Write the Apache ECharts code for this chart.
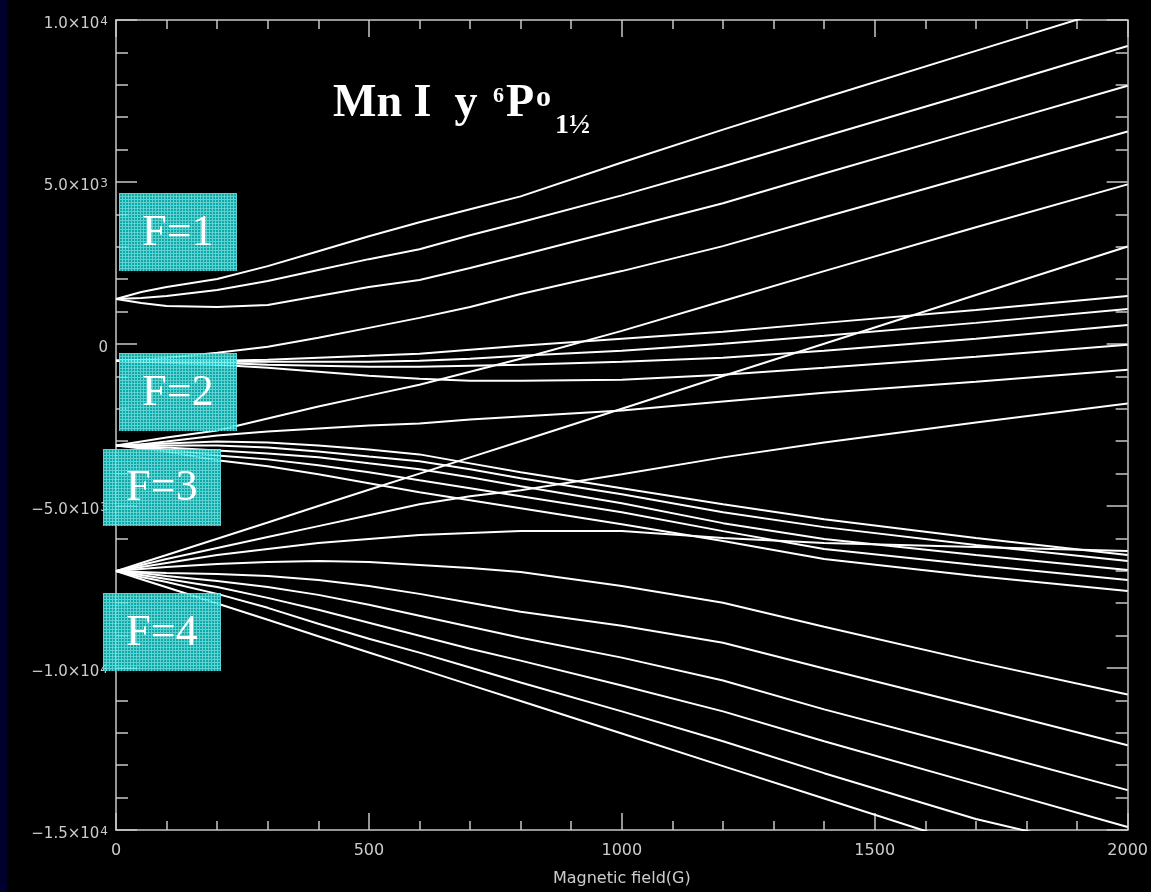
<!DOCTYPE html>
<html><head><meta charset="utf-8">
<script src="https://cdn.jsdelivr.net/npm/echarts@6/dist/echarts.min.js"></script>
<style>html,body{margin:0;padding:0;background:#000;}#c{width:1151px;height:892px;}</style>
</head><body><div id="c"></div>
<script>
// Magnetic field samples (G)
const fieldG = [0, 50, 100, 200, 300, 400, 500, 600, 700, 800, 1000, 1200, 1400, 1700, 2000];

// F=1 levels
const f1_m1 = [1390, 1605, 1759, 2004, 2404, 2865, 3327, 3757, 4157, 4557, 5603, 6617, 7601, 9047, 10490];
const f1_m0 = [1390, 1421, 1482, 1667, 1943, 2281, 2619, 2927, 3357, 3757, 4588, 5480, 6402, 7786, 9200];
const f1_p1 = [1390, 1267, 1175, 1144, 1205, 1482, 1759, 1974, 2343, 2742, 3542, 4342, 5264, 6617, 7972];
// F=2 levels
const f2_p2 = [-517, -486, -424, -271, -86, 190, 498, 806, 1144, 1544, 2250, 3020, 3911, 5234, 6556];
const f2_a = [-517, -517, -517, -517, -486, -424, -363, -301, -178, -55, 160, 375, 652, 1052, 1482];
const f2_b = [-517, -517, -517, -547, -547, -547, -547, -517, -455, -363, -209, 6, 252, 652, 1082];
const f2_c = [-517, -547, -547, -578, -640, -670, -701, -701, -670, -640, -547, -424, -209, 160, 590];
const f2_d = [-517, -547, -578, -640, -732, -855, -978, -1070, -1132, -1132, -1101, -947, -732, -394, -25];
// F=3 levels
const f3_p3 = [-3130, -3007, -2884, -2669, -2300, -1931, -1593, -1255, -855, -455, 406, 1328, 2250, 3603, 4926];
const f3_p2 = [-3130, -3099, -3007, -2822, -2699, -2607, -2515, -2453, -2330, -2238, -2054, -1777, -1501, -1162, -793];
const f3_a = [-3130, -3099, -3069, -3007, -3038, -3130, -3253, -3407, -3684, -3960, -4453, -4945, -5406, -5990, -6513];
const f3_b = [-3130, -3130, -3130, -3130, -3192, -3315, -3469, -3622, -3868, -4145, -4637, -5191, -5652, -6205, -6697];
const f3_c = [-3130, -3161, -3192, -3284, -3376, -3499, -3684, -3868, -4114, -4391, -4914, -5529, -6021, -6513, -6974];
const f3_d = [-3130, -3192, -3253, -3438, -3561, -3745, -3960, -4207, -4453, -4699, -5191, -5775, -6328, -6820, -7282];
const f3_e = [-3130, -3222, -3315, -3591, -3776, -4022, -4299, -4576, -4822, -5068, -5560, -6082, -6636, -7159, -7620];
// F=4 levels
const f4_p4 = [-7010, -6760, -6510, -6010, -5510, -5000, -4500, -4000, -3500, -3000, -2000, -990, 10, 1510, 3010];
const f4_p3 = [-7005, -6820, -6636, -6297, -5959, -5621, -5283, -4945, -4699, -4514, -4022, -3499, -3038, -2423, -1839];
const f4_p2 = [-7005, -6882, -6759, -6513, -6328, -6144, -6021, -5898, -5836, -5775, -5775, -5990, -6144, -6267, -6390];
const f4_p1 = [-7005, -6944, -6882, -6790, -6728, -6697, -6728, -6820, -6913, -7036, -7467, -7989, -8727, -9803, -10817];
const f4_m0 = [-7005, -7036, -7067, -7097, -7159, -7282, -7467, -7712, -7989, -8266, -8696, -9219, -10018, -11186, -12385];
const f4_m1 = [-7005, -7067, -7159, -7313, -7497, -7743, -8050, -8389, -8727, -9065, -9680, -10387, -11278, -12508, -13769];
const f4_m2 = [-7005, -7128, -7251, -7497, -7835, -8204, -8604, -9004, -9403, -9772, -10541, -11339, -12262, -13584, -14906];
const f4_m3 = [-7005, -7190, -7344, -7712, -8143, -8635, -9096, -9526, -9987, -10449, -11339, -12262, -13246, -14660, -15767];
const f4_m4 = [-7010, -7260, -7510, -8010, -8510, -9020, -9520, -10020, -10520, -11020, -12020, -13030, -14030, -15530, -17040];

const levels = [f1_m1, f1_m0, f1_p1, f2_p2, f2_a, f2_b, f2_c, f2_d,
  f3_p3, f3_p2, f3_a, f3_b, f3_c, f3_d, f3_e,
  f4_p4, f4_p3, f4_p2, f4_p1, f4_m0, f4_m1, f4_m2, f4_m3, f4_m4];

// Tick labels
const yTickValues = [-15000, -10000, -5000, 0, 5000, 10000];
const yTickMant = ['\u22121.5', '\u22121.0', '\u22125.0', '0', '5.0', '1.0'];
const yTickExp = ['4', '4', '3', '', '3', '4'];
const xTickValues = [0, 500, 1000, 1500, 2000];
const xTickText = ['0', '500', '1000', '1500', '2000'];
const boxLabels = ['F=1', 'F=2', 'F=3', 'F=4'];
const titleParts = ['Mn I  y ', '6', 'P', 'o', '1\u00bd'];
const xName = 'Magnetic field(G)';

const chart = echarts.init(document.getElementById('c'), null, {renderer: 'canvas'});

const axisCol = '#c8c8c8';
const lblCol = '#cccccc';
const lblFont = 'DejaVu Sans';

function yFmt(v) {
  const i = yTickValues.indexOf(v);
  if (i < 0) return '';
  if (!yTickExp[i]) return '{b|' + yTickMant[i] + '}';
  return '{b|' + yTickMant[i] + '\u00d710}{e|' + yTickExp[i] + '}';
}
function xFmt(v) {
  const i = xTickValues.indexOf(v);
  return i < 0 ? '' : xTickText[i];
}

// pattern for boxes
const pc = document.createElement('canvas');
pc.width = 3; pc.height = 3;
const g = pc.getContext('2d');
g.fillStyle = '#10c2c2'; g.fillRect(0, 0, 3, 3);
g.fillStyle = '#70eeee'; g.fillRect(0, 0, 3, 1); g.fillRect(0, 0, 1, 3);

const boxes = [
  {x: 119, y: 193, w: 118, h: 78},
  {x: 119, y: 353, w: 118, h: 78},
  {x: 103, y: 449, w: 118, h: 77},
  {x: 103, y: 593, w: 118, h: 78}
];
const graphics = [{type: 'rect', left: 0, top: 0, z: 0, shape: {width: 7, height: 892}, style: {fill: '#00002c'}}];
boxes.forEach((b, i) => {
  graphics.push({type: 'rect', x: b.x, y: b.y, z: 100, shape: {x: 0, y: 0, width: b.w, height: b.h},
    style: {fill: {image: pc, repeat: 'repeat'}, opacity: 0.88}});
  graphics.push({type: 'text', x: b.x + b.w / 2, y: b.y + b.h / 2 + 1, z: 101,
    style: {text: boxLabels[i], fill: '#fff', font: '44px "Liberation Serif"',
      textAlign: 'center', align: 'center', verticalAlign: 'middle', textVerticalAlign: 'middle'}});
});

const tickStyle = {color: axisCol, width: 1.5};
function xAx(pos, labels) {
  return {type: 'value', min: 0, max: 2000, interval: 500, position: pos,
    axisLine: {show: true, onZero: false, lineStyle: {color: axisCol, width: 1.5}},
    axisTick: {show: true, inside: true, length: 17, lineStyle: tickStyle},
    minorTick: {show: true, splitNumber: 5, length: 9, lineStyle: tickStyle},
    splitLine: {show: false}, minorSplitLine: {show: false},
    axisLabel: {show: labels, color: lblCol, fontSize: 16, fontFamily: lblFont, margin: 13, formatter: xFmt},
    name: labels ? xName : '', nameLocation: 'middle', nameGap: 41,
    nameTextStyle: {color: lblCol, fontSize: 16, fontFamily: lblFont}};
}
function yAx(pos, labels) {
  return {type: 'value', min: -15000, max: 10000, interval: 5000, position: pos,
    axisLine: {show: true, onZero: false, lineStyle: {color: axisCol, width: 1.5}},
    axisTick: {show: true, inside: true, length: 21, lineStyle: tickStyle},
    minorTick: {show: true, splitNumber: 5, length: 12, lineStyle: tickStyle},
    splitLine: {show: false}, minorSplitLine: {show: false},
    axisLabel: {show: labels, margin: 8, formatter: yFmt, padding: [7, 0, 0, 0],
      rich: {
        b: {color: lblCol, fontSize: 15, fontFamily: lblFont, lineHeight: 26, padding: [6, 0, 0, 0], verticalAlign: 'top'},
        e: {color: lblCol, fontSize: 12, fontFamily: lblFont, lineHeight: 10, padding: [5, 0, 0, 1], verticalAlign: 'top'}
      }}};
}

const series = levels.map((arr, k) => ({
  type: 'line', name: 'L' + k, xAxisIndex: 0, yAxisIndex: 0,
  data: fieldG.map((b, i) => [b, arr[i]]),
  symbol: 'none', showSymbol: false, silent: true, clip: true,
  lineStyle: {color: '#ffffff', width: 2}
}));

const titleFont = 'Liberation Serif';
chart.setOption({
  backgroundColor: '#000',
  animation: false,
  title: {
    left: 333, top: 71, padding: 0,
    text: '{m|' + titleParts[0] + '}{s|' + titleParts[1] + '}{m|' + titleParts[2] + '}{o|' + titleParts[3] + '}{b|' + titleParts[4] + '}',
    textStyle: {rich: {
      m: {fontSize: 46, fontWeight: 'bold', fontFamily: titleFont, color: '#fff', lineHeight: 46, padding: [10, 0, 0, 0], verticalAlign: 'top'},
      s: {fontSize: 22, fontWeight: 'bold', fontFamily: titleFont, color: '#fff', lineHeight: 22, padding: [14, 2, 0, 4], verticalAlign: 'top'},
      o: {fontSize: 30, fontWeight: 'bold', fontFamily: titleFont, color: '#fff', lineHeight: 30, padding: [12, 1, 0, 2], verticalAlign: 'top'},
      b: {fontSize: 28, fontWeight: 'bold', fontFamily: titleFont, color: '#fff', lineHeight: 28, padding: [41, 0, 0, 3], verticalAlign: 'top'}
    }}
  },
  grid: {left: 116, top: 20, width: 1014, height: 813, containLabel: false},
  xAxis: [xAx('bottom', true), xAx('top', false)],
  yAxis: [yAx('left', true), yAx('right', false)],
  series: series,
  graphic: graphics
});
</script></body></html>
